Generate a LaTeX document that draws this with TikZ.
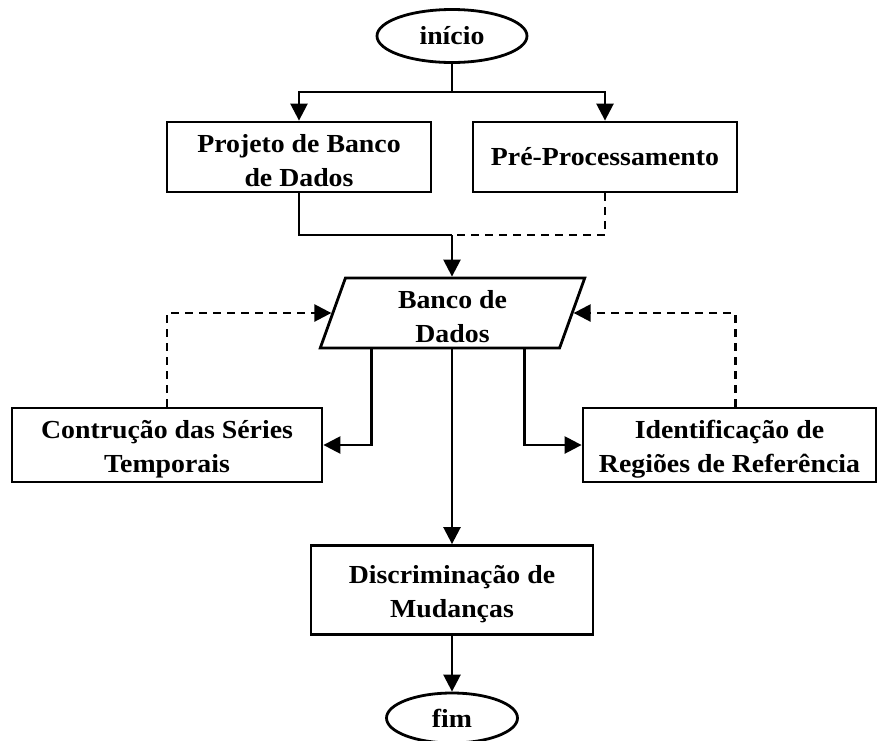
\documentclass[tikz,border=0pt]{standalone}
\usepackage{fontspec}
\setmainfont{Liberation Serif}[FakeStretch=1.07]
\usetikzlibrary{shapes.geometric,arrows.meta}

% taller first line so two-line labels sit a little lower in their boxes
\newcommand\firststrut{\rule{0pt}{26pt}}

\tikzset{
  txt/.style={font=\bfseries\fontsize{26}{34}\selectfont, align=center, inner sep=0pt},
  procbox/.style={txt, draw, rectangle, line width=2.8pt},
  term/.style={txt, draw, ellipse, line width=2.8pt},
  databox/.style={txt, draw, trapezium, trapezium left angle=78, trapezium right angle=102,
    trapezium stretches=true, line width=2.8pt},
  link/.style={line width=2.5pt},
  tip/.style={-{Triangle[length=17pt,width=17pt]}},
  arr/.style={link, tip},
  dashlink/.style={link, dash pattern=on 8pt off 6pt},
}

\begin{document}
\begin{tikzpicture}[x=1pt, y=-1pt]
\useasboundingbox (0,0) rectangle (879,740);

% terminals
\node[term, minimum width=150pt, minimum height=53pt] (inicio) at (452,36) {início};
\node[term, minimum width=131pt, minimum height=50pt] (fim) at (452,718) {fim};

% processes
\node[procbox, minimum width=264pt, minimum height=70pt] (proj) at (299,157) {\firststrut Projeto de Banco\\de Dados};
\node[procbox, minimum width=264pt, minimum height=70pt] (pre) at (605,157) {Pré-Processamento};
\node[databox, minimum width=265pt, minimum height=70pt] (bd) at (452.5,313) {\firststrut Banco de\\Dados};
\node[procbox, minimum width=310pt, minimum height=74pt] (cont) at (167,445) {\firststrut Contrução das Séries\\Temporais};
\node[procbox, minimum width=293pt, minimum height=74pt] (ident) at (729.5,445) {\firststrut Identificação de\\Regiões de Referência};
\node[procbox, minimum width=282pt, minimum height=89pt] (disc) at (452,590) {\firststrut Discriminação de\\Mudanças};

% junctions
\coordinate (j1) at (452,92);
\coordinate (j2) at (452,235);
\coordinate (bl) at ([xshift=53pt]bd.bottom left corner);
\coordinate (br) at ([xshift=-36pt]bd.bottom right corner);

% start splits into the two preparation steps
\draw[link] (inicio.south) -- (j1);
\draw[arr] (j1) -| (proj.north);
\draw[arr] (j1) -| (pre.north);

% both feed the database
\draw[link] (proj.south) |- (j2);
\draw[dashlink] (pre.south) |- (j2);
\draw[arr] (j2) -- (j2 |- bd.north);

% database to the analysis steps
\draw[arr] (bl) |- (cont.east);
\draw[arr] (br) |- (ident.west);
\draw[arr] (bd.south -| inicio) -- (disc.north);
\draw[arr] (disc.south) -- (fim.north);

% results written back
\draw[dashlink, tip] (cont.north) |- (bd.left side);
\draw[dashlink, tip] ([xshift=6pt]ident.north) |- (bd.right side);
\end{tikzpicture}
\end{document}
